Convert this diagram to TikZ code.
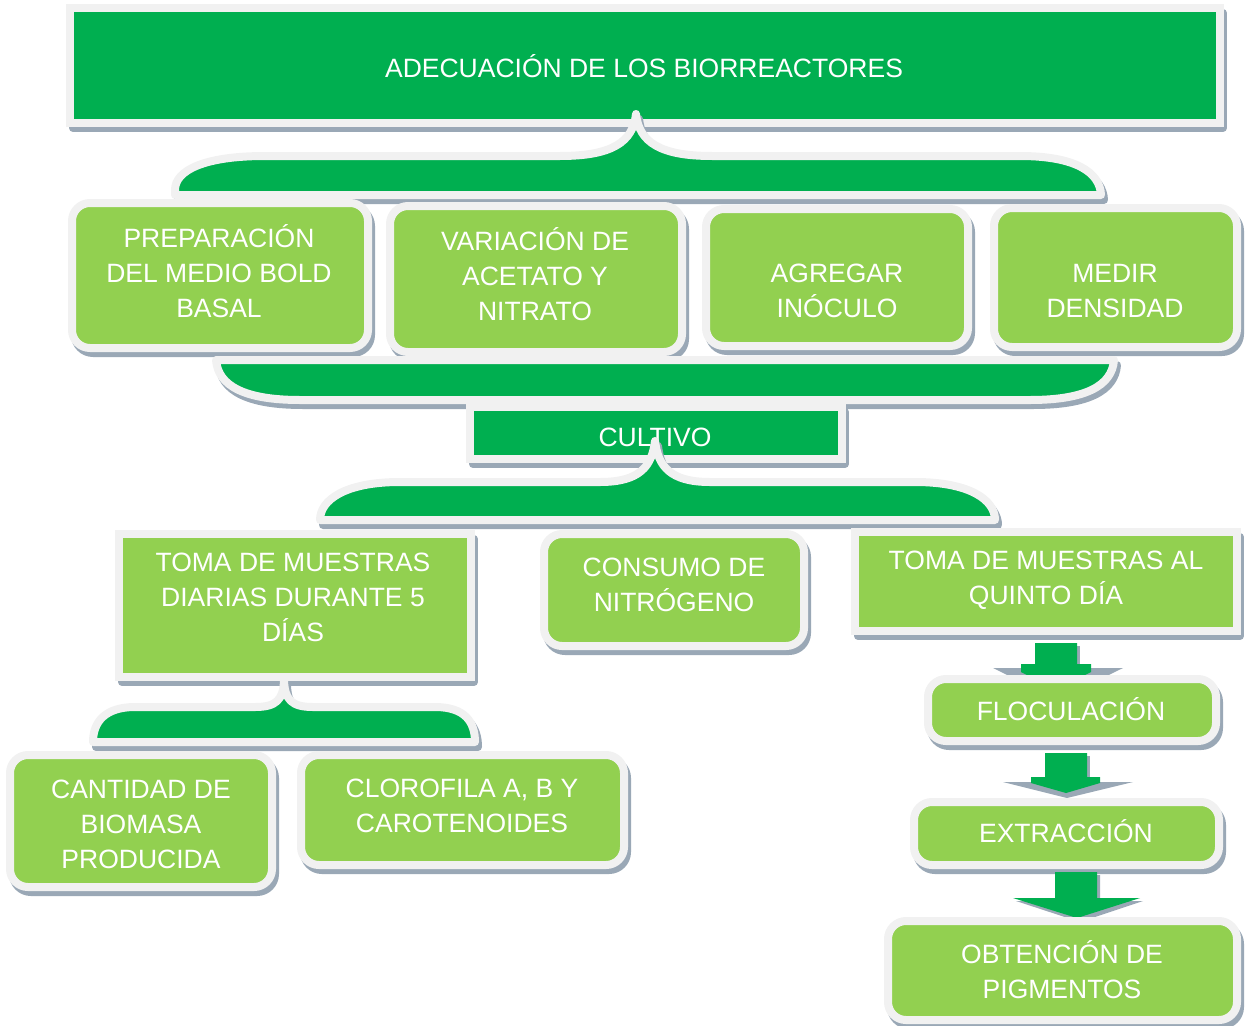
\documentclass[tikz,border=0pt]{standalone}
\usepackage{fontspec}
\setmainfont{Liberation Sans}
\definecolor{dgreen}{HTML}{00AF50}
\definecolor{lgreen}{HTML}{92D050}
\definecolor{bord}{HTML}{F1F1F1}
\definecolor{shad}{HTML}{9AA8B6}
\tikzset{
  shadowed/.style={preaction={draw=shad, fill=shad, line width=8pt, line join=round, transform canvas={shift={(3pt,-5pt)}}}},
  sqbox/.style={shadowed, rectangle, draw=bord, line width=8pt, inner sep=0pt},
  dsq/.style={sqbox, fill=dgreen},
  lsq/.style={sqbox, fill=lgreen},
  lrd/.style={sqbox, fill=lgreen, rounded corners=18pt},
  lbl/.style={text=white, align=center, inner sep=0pt, font=\fontsize{26.5}{35}\selectfont,
    execute at begin node=\strut, execute at end node=\strut},
  brace/.style={line join=round, shadowed, draw=bord, line width=8pt, fill=dgreen},
  arrowshad/.style={fill=shad},
  arrowgreen/.style={fill=dgreen},
}
\begin{document}
\begin{tikzpicture}[x=1pt,y=-1pt]
\useasboundingbox (0,0) rectangle (1246,1025);

% top box
\node[dsq, minimum width=1150pt, minimum height=115pt] (b1) at (645,65.5) {};
\node[lbl] (t1) at (644,70.5) {ADECUACIÓN DE LOS BIORREACTORES};

% top brace
\path[brace] (175,195) -- (175,190) .. controls (175,170) and (205,156) .. (265,156)
  -- (560,156) .. controls (612,156) and (633,142) .. (636,114)
  .. controls (639,142) and (660,156) .. (712,156)
  -- (1020,156) .. controls (1075,156) and (1100,172) .. (1101,195) -- cycle;

% row of four
\node[lrd, minimum width=296pt, minimum height=145pt] (b2) at (220,275.5) {};
\node[lbl] (t2) at (219,276) {PREPARACIÓN\\DEL MEDIO BOLD\\BASAL};
\node[lrd, minimum width=292pt, minimum height=146pt] (b3) at (536,279) {};
\node[lbl] (t3) at (535,279) {VARIACIÓN DE\\ACETATO Y\\NITRATO};
\node[lrd, minimum width=262pt, minimum height=137pt] (b4) at (837,277.5) {};
\node[lbl] (t4) at (837,296) {AGREGAR\\INÓCULO};
\node[lrd, minimum width=243pt, minimum height=139pt] (b5) at (1115.5,277.5) {};
\node[lbl] (t5) at (1115,296) {MEDIR\\DENSIDAD};

% bottom brace (inverted)
\path[brace] (216,360) -- (1114,360) .. controls (1112,386) and (1085,400) .. (1030,400)
  -- (300,400) .. controls (245,400) and (218,386) .. (216,360) -- cycle;

% cultivo
\node[dsq, minimum width=372pt, minimum height=52pt] (b6) at (656,433) {};
\node[lbl] (t6) at (655,439) {CULTIVO};

% middle brace
\path[brace] (320,520) .. controls (320,500) and (345,482) .. (400,482)
  -- (600,482) .. controls (640,482) and (652,466) .. (655,441)
  .. controls (658,466) and (670,482) .. (710,482)
  -- (915,482) .. controls (970,482) and (995,500) .. (995,520) -- cycle;

% three boxes
\node[lsq, minimum width=352pt, minimum height=143pt] (b7) at (295,605.5) {};
\node[lbl] (t7) at (293,602.5) {TOMA DE MUESTRAS\\DIARIAS DURANTE 5\\DÍAS};
\node[lrd, minimum width=260pt, minimum height=112pt] (b8) at (674,590) {};
\node[lbl] (t8) at (674,590) {CONSUMO DE\\NITRÓGENO};
\node[lsq, minimum width=382pt, minimum height=99pt] (b9) at (1046,581.5) {};
\node[lbl] (t9) at (1046,582.5) {TOMA DE MUESTRAS AL\\QUINTO DÍA};

% small brace
\path[brace] (93,742) .. controls (93,722) and (105,707) .. (135,707)
  -- (255,707) .. controls (276,707) and (283,700) .. (284,681)
  .. controls (285,700) and (292,707) .. (313,707)
  -- (435,707) .. controls (465,707) and (475,722) .. (475,742) -- cycle;

% bottom-left boxes
\node[lrd, minimum width=262pt, minimum height=132pt] (b10) at (141,821) {};
\node[lbl] (t10) at (141,829.5) {CANTIDAD DE\\BIOMASA\\PRODUCIDA};
\node[lrd, minimum width=323pt, minimum height=110pt] (b11) at (462.5,810) {};
\node[lbl] (t11) at (462,811) {CLOROFILA A, B Y\\CAROTENOIDES};

% right column with block arrows
\fill[arrowshad] (993,668) -- (1123,668) -- (1058,700) -- cycle;
\fill[arrowshad] (1038,646) -- (1080,646) -- (1080,672) -- (1038,672) -- cycle;
\fill[arrowgreen] (1035,643) -- (1077,643) -- (1077,664) -- (1091,664) -- (1091,672)
  -- (1056,690) -- (1021,672) -- (1021,664) -- (1035,664) -- cycle;
\node[lrd, minimum width=288pt, minimum height=62pt] (b12) at (1072,710) {};
\node[lbl] (t12) at (1071,713.5) {FLOCULACIÓN};

\fill[arrowshad] (1003,782) -- (1133,782) -- (1067,798) -- cycle;
\fill[arrowshad] (1048,756) -- (1090,756) -- (1090,780) -- (1048,780) -- cycle;
\fill[arrowgreen] (1045,753) -- (1087,753) -- (1087,777) -- (1100,777) -- (1100,783)
  -- (1066,793) -- (1031,783) -- (1031,777) -- (1045,777) -- cycle;
\node[lrd, minimum width=305pt, minimum height=63pt] (b13) at (1066.5,833.5) {};
\node[lbl] (t13) at (1066,835.5) {EXTRACCIÓN};

\fill[arrowshad] (1058,875) -- (1100,875) -- (1100,901) -- (1143,901) -- (1080,922) -- (1016,901) -- (1058,901) -- cycle;
\fill[arrowgreen] (1055,872) -- (1097,872) -- (1097,898) -- (1140,898) -- (1077,918)
  -- (1013,898) -- (1055,898) -- cycle;
\node[lrd, minimum width=349pt, minimum height=99pt] (b14) at (1062.5,970.5) {};
\node[lbl] (t14) at (1062,974.5) {OBTENCIÓN DE\\PIGMENTOS};
\end{tikzpicture}
\end{document}
